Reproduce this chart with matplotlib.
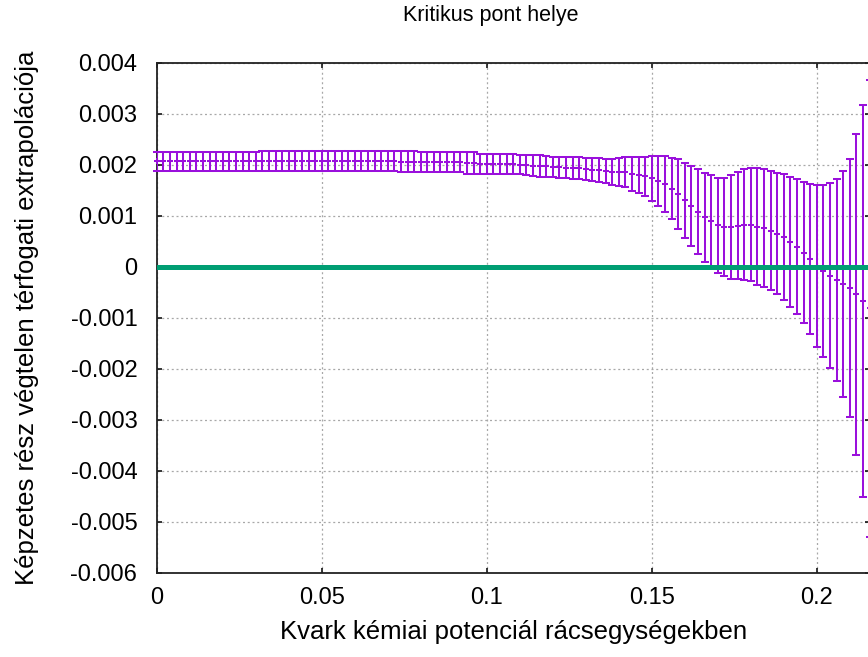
import matplotlib
matplotlib.use("Agg")
import matplotlib.pyplot as plt

# ---------------- data ----------------
mu = [0.000, 0.002, 0.004, 0.006, 0.008, 0.010, 0.012, 0.014, 0.016, 0.018,
      0.020, 0.022, 0.024, 0.026, 0.028, 0.030, 0.032, 0.034, 0.036, 0.038,
      0.040, 0.042, 0.044, 0.046, 0.048, 0.050, 0.052, 0.054, 0.056, 0.058,
      0.060, 0.062, 0.064, 0.066, 0.068, 0.070, 0.072, 0.074, 0.076, 0.078,
      0.080, 0.082, 0.084, 0.086, 0.088, 0.090, 0.092, 0.094, 0.096, 0.098,
      0.100, 0.102, 0.104, 0.106, 0.108, 0.110, 0.112, 0.114, 0.116, 0.118,
      0.120, 0.122, 0.124, 0.126, 0.128, 0.130, 0.132, 0.134, 0.136, 0.138,
      0.140, 0.142, 0.144, 0.146, 0.148, 0.150, 0.152, 0.154, 0.156, 0.158,
      0.160, 0.162, 0.164, 0.166, 0.168, 0.170, 0.172, 0.174, 0.176, 0.178,
      0.180, 0.182, 0.184, 0.186, 0.188, 0.190, 0.192, 0.194, 0.196, 0.198,
      0.200, 0.202, 0.204, 0.206, 0.208, 0.210, 0.212, 0.214, 0.216]

# imaginary part (in units of 1e-3)
value_e3 = [2.065, 2.065, 2.065, 2.065, 2.065, 2.065, 2.065, 2.065, 2.065, 2.065,
            2.065, 2.065, 2.065, 2.065, 2.065, 2.065, 2.075, 2.075, 2.075, 2.075,
            2.075, 2.075, 2.075, 2.075, 2.075, 2.075, 2.075, 2.075, 2.075, 2.075,
            2.075, 2.075, 2.075, 2.075, 2.075, 2.075, 2.075, 2.062, 2.062, 2.062,
            2.046, 2.046, 2.046, 2.046, 2.046, 2.046, 2.046, 2.026, 2.026, 2.010,
            2.010, 2.010, 2.013, 2.010, 2.005, 2.000, 1.993, 1.984, 1.974, 1.971,
            1.958, 1.951, 1.944, 1.938, 1.928, 1.912, 1.902, 1.889, 1.876, 1.859,
            1.853, 1.850, 1.817, 1.791, 1.771, 1.732, 1.680, 1.624, 1.529, 1.422,
            1.304, 1.190, 1.075, 0.971, 0.892, 0.814, 0.781, 0.778, 0.804, 0.824,
            0.820, 0.788, 0.752, 0.709, 0.650, 0.582, 0.487, 0.395, 0.278, 0.150,
            0.016, -0.082, -0.180, -0.261, -0.333, -0.418, -0.542, -0.676, -0.817]

# error (in units of 1e-3)
error_e3 = [0.190, 0.190, 0.190, 0.190, 0.190, 0.190, 0.190, 0.190, 0.190, 0.190,
            0.190, 0.190, 0.190, 0.190, 0.190, 0.190, 0.200, 0.200, 0.200, 0.200,
            0.200, 0.200, 0.200, 0.200, 0.200, 0.200, 0.200, 0.200, 0.200, 0.200,
            0.200, 0.200, 0.200, 0.200, 0.200, 0.200, 0.200, 0.212, 0.212, 0.212,
            0.196, 0.196, 0.196, 0.196, 0.196, 0.196, 0.196, 0.216, 0.216, 0.200,
            0.200, 0.200, 0.200, 0.200, 0.196, 0.190, 0.196, 0.206, 0.209, 0.206,
            0.199, 0.206, 0.212, 0.212, 0.216, 0.212, 0.222, 0.235, 0.242, 0.252,
            0.271, 0.294, 0.327, 0.353, 0.386, 0.438, 0.490, 0.546, 0.595, 0.683,
            0.735, 0.784, 0.833, 0.873, 0.905, 0.931, 0.964, 1.020, 1.046, 1.085,
            1.108, 1.141, 1.157, 1.167, 1.193, 1.235, 1.278, 1.324, 1.376, 1.471,
            1.585, 1.683, 1.814, 1.980, 2.216, 2.523, 3.147, 3.846, 4.477]

value = [v * 1e-3 for v in value_e3]
error = [e * 1e-3 for e in error_e3]

xticks = [0, 0.05, 0.1, 0.15, 0.2]
xtick_labels = ["0", "0.05", "0.1", "0.15", "0.2"]
yticks = [-0.006, -0.005, -0.004, -0.003, -0.002, -0.001, 0, 0.001, 0.002, 0.003, 0.004]
ytick_labels = ["-0.006", "-0.005", "-0.004", "-0.003", "-0.002", "-0.001",
                "0", "0.001", "0.002", "0.003", "0.004"]

title = "Kritikus pont helye"
xlabel = "Kvark kémiai potenciál rácsegységekben"
ylabel = "Képzetes rész végtelen térfogati extrapolációja"

# ---------------- plot ----------------
plt.rcParams['font.family'] = ['Liberation Sans', 'DejaVu Sans']

W, H = 868, 657
fig = plt.figure(figsize=(W / 100, H / 100), dpi=100)
left_px, right_px, top_px, bot_px = 156.7, 869.5, 62.7, 572.7
ax = fig.add_axes([left_px / W, 1 - bot_px / H, (right_px - left_px) / W, (bot_px - top_px) / H])

purple = '#9a10dc'
green = '#009e73'

eb = ax.errorbar(mu, value, yerr=error, fmt='+', color=purple, ecolor=purple,
                 elinewidth=1.45, capsize=2.6, capthick=1.45, markersize=5.0,
                 markeredgewidth=1.45, zorder=3)
for art in eb.lines[1]:
    art.set_clip_on(False)
eb.lines[0].set_clip_on(False)

ax.axhline(0, color=green, linewidth=3.6, zorder=4)

ax.set_xlim(0, 0.216)
ax.set_ylim(-0.006, 0.004)
ax.set_xticks(xticks)
ax.set_xticklabels(xtick_labels)
ax.set_yticks(yticks)
ax.set_yticklabels(ytick_labels)

ax.tick_params(direction='in', length=3.8, width=1.1, top=True, right=True,
               labelsize=17, colors='black')
ax.tick_params(axis='y', pad=14)
ax.tick_params(axis='x', pad=10)

ax.grid(True, color='#a8a8a8', linestyle=(0, (1.6, 2.2)), linewidth=0.9)
ax.set_axisbelow(True)
for sp in ax.spines.values():
    sp.set_linewidth(1.3)
    sp.set_color('#222222')

ax.set_xlabel(xlabel, fontsize=18.5, labelpad=8)
fig.text(27 / W, 1 - 318 / H, ylabel, rotation=90, fontsize=18.5,
         ha='center', va='center')
fig.text(491 / W, 1 - 15 / H, title, fontsize=15.5, ha='center', va='center')

fig.savefig('out.png', dpi=100)
